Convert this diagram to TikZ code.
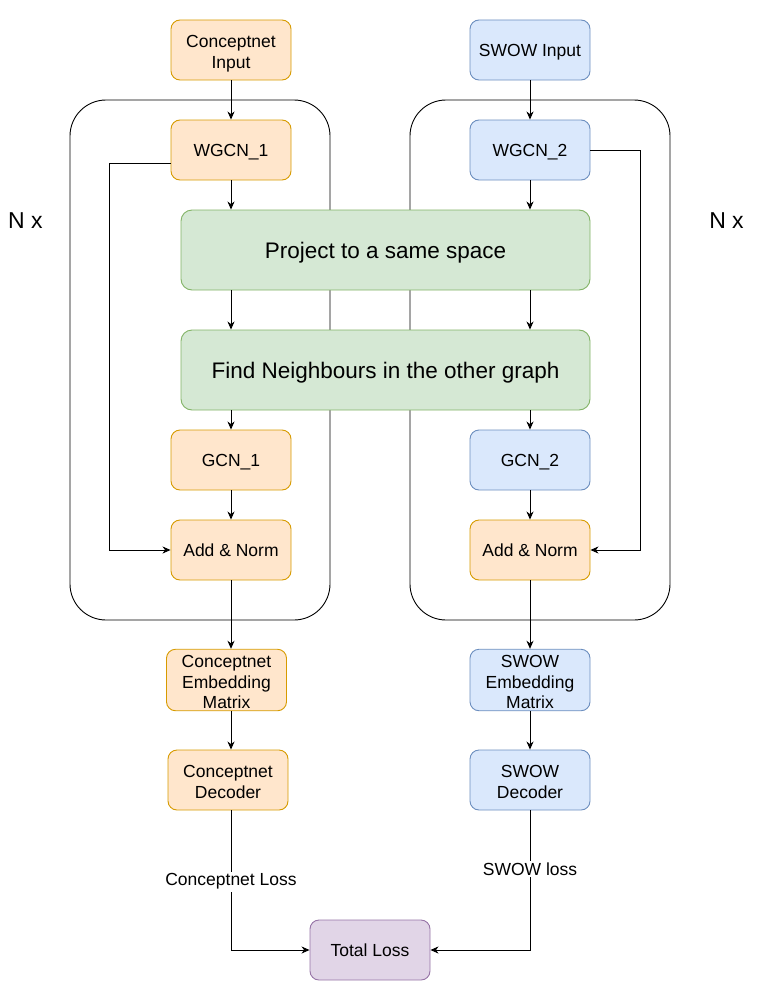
\documentclass[tikz,border=0pt]{standalone}
\usepackage{fontspec}
\setmainfont{Liberation Sans}
\usetikzlibrary{arrows.meta}
\definecolor{ofill}{HTML}{FFE6CC}\definecolor{oline}{HTML}{D79B00}
\definecolor{bfill}{HTML}{DAE8FC}\definecolor{bline}{HTML}{6C8EBF}
\definecolor{gfill}{HTML}{D5E8D4}\definecolor{gline}{HTML}{82B366}
\definecolor{pfill}{HTML}{E1D5E7}\definecolor{pline}{HTML}{9673A6}
\newcommand{\mltext}[1]{\raisebox{-3.9pt}[\height][\depth]{\begin{tabular}{@{}c@{}}#1\end{tabular}}}
\tikzset{
  base/.style={rounded corners=9pt, minimum width=120pt, minimum height=60pt, align=center, inner sep=0pt, line width=0.9pt, font=\fontsize{17.5}{20.5}\selectfont,
    execute at begin node={\rule{0pt}{16.4pt}}, execute at end node={\rule[-3.5pt]{0pt}{3.5pt}}},
  obox/.style={base, fill=ofill, draw=oline},
  bbox/.style={base, fill=bfill, draw=bline},
  pbox/.style={base, fill=pfill, draw=pline},
  gbox/.style={base, fill=gfill, draw=gline, minimum width=409pt, minimum height=80pt, rounded corners=11pt, font=\fontsize{22.5}{26}\selectfont,
    execute at begin node={\rule{0pt}{21pt}}, execute at end node={\rule[-4.6pt]{0pt}{4.6pt}}},
  container/.style={draw=black, line width=0.9pt, rounded corners=36pt, minimum width=260pt, minimum height=520pt, inner sep=0pt},
  conn/.style={line width=0.9pt, -{Stealth[length=8pt,width=7pt,inset=2.5pt]}},
  lbl/.style={fill=white, inner sep=2pt, font=\fontsize{17.5}{20.5}\selectfont},
  big/.style={font=\fontsize{23}{26}\selectfont, inner sep=0pt}
}
\begin{document}
\begin{tikzpicture}[x=1pt,y=-1pt]
\useasboundingbox (0,0) rectangle (771,982);
% containers
\node[container] (loopL) at (200,360) {};
\node[container] (loopR) at (540,360) {};
\node[big] (nxL) at (25.5,221) {N x};
\node[big] (nxR) at (726.5,221) {N x};
% left column
\node[obox] (cin) at (231,50) {\mltext{Conceptnet\\Input}};
\node[obox] (wg1) at (231,150) {WGCN\_1};
\node[obox] (gc1) at (231,460) {GCN\_1};
\node[obox] (an1) at (231,550) {Add \& Norm};
\node[obox] (em1) at (226.5,680) {\mltext{Conceptnet\\Embedding\\Matrix}};
\node[obox] (de1) at (228,780) {\mltext{Conceptnet\\Decoder}};
% right column
\node[bbox] (sin) at (530,50) {SWOW Input};
\node[bbox] (wg2) at (530,150) {WGCN\_2};
\node[bbox] (gc2) at (530,460) {GCN\_2};
\node[obox] (an2) at (530,550) {Add \& Norm};
\node[bbox] (em2) at (530,680) {\mltext{SWOW\\Embedding\\Matrix}};
\node[bbox] (de2) at (530,780) {\mltext{SWOW\\Decoder}};
% shared
\node[gbox] (proj) at (385.5,250) {Project to a same space};
\node[gbox] (find) at (385.5,370) {Find Neighbours in the other graph};
\node[pbox] (tot) at (370,950) {Total Loss};
% left arrows
\draw[conn] (cin.south) -- (wg1.north);
\draw[conn] (wg1.south) -- (proj.north -| wg1.south);
\draw[conn] (proj.south -| wg1.south) -- (find.north -| wg1.south);
\draw[conn] (find.south -| gc1.north) -- (gc1.north);
\draw[conn] (gc1.south) -- (an1.north);
\draw[conn] (an1.south) -- (em1.north -| an1.south);
\draw[conn] (em1.south -| an1.south) -- (de1.north -| an1.south);
\draw[conn] ([yshift=-13pt]wg1.west) -- ++(-61,0) |- (an1.west);
% right arrows
\draw[conn] (sin.south) -- (wg2.north);
\draw[conn] (wg2.south) -- (proj.north -| wg2.south);
\draw[conn] (proj.south -| wg2.south) -- (find.north -| wg2.south);
\draw[conn] (find.south -| gc2.north) -- (gc2.north);
\draw[conn] (gc2.south) -- (an2.north);
\draw[conn] (an2.south) -- (em2.north);
\draw[conn] (em2.south) -- (de2.north);
\draw[conn] (wg2.east) -- ++(50,0) |- (an2.east);
% losses
\draw[conn] (de1.south -| an1.south) -- node[lbl, pos=0.51] {Conceptnet Loss} (an1.south |- tot.west) -- (tot.west);
\draw[conn] (de2.south) -- node[lbl, pos=0.42] {SWOW loss} (de2.south |- tot.east) -- (tot.east);
\end{tikzpicture}
\end{document}
